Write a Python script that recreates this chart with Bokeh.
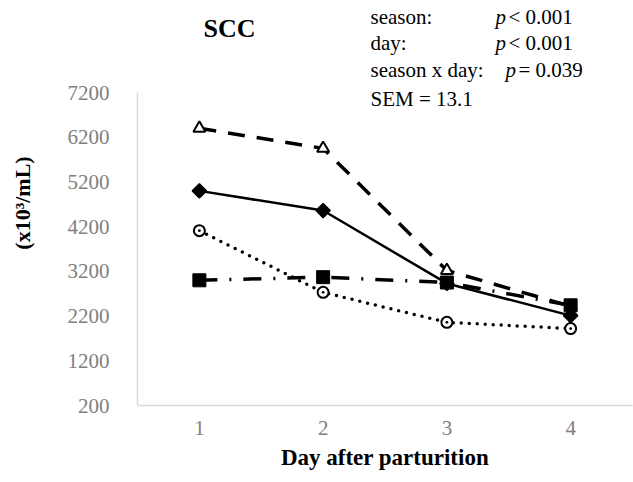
import math
from bokeh.plotting import figure
from bokeh.models import Range1d, FixedTicker, Label
from bokeh.embed import file_html
from bokeh.resources import INLINE

days = [1, 2, 3, 4]
day_labels = {1: "1", 2: "2", 3: "3", 4: "4"}
y_ticks = [200, 1200, 2200, 3200, 4200, 5200, 6200, 7200]
y_min, y_max = 200, 7200

series_triangle = [6400, 5950, 3220, 2420]
series_diamond = [5000, 4560, 2930, 2210]
series_circle = [4110, 2730, 2060, 1920]
series_square = [3000, 3070, 2950, 2440]

FONT = "Liberation Serif"

# layout in pixels
W, H = 633, 482
LEFT, BOTTOM = 137, 77
AXIS_TOP_PX = 92            # pixel row where 7200 sits
FRAME_H = H - BOTTOM        # frame spans from canvas top to the x axis
y_top = y_min + (y_max - y_min) * FRAME_H / (FRAME_H - AXIS_TOP_PX)

p = figure(width=W, height=H, output_backend="svg", toolbar_location=None,
           x_range=Range1d(0.5, 4.5), y_range=Range1d(y_min, y_top),
           min_border_left=LEFT, min_border_right=1, min_border_top=0,
           min_border_bottom=BOTTOM)
p.outline_line_color = None
p.grid.visible = False
p.background_fill_color = "white"
p.border_fill_color = "white"

for ax in (p.xaxis, p.yaxis):
    ax.axis_line_color = "#d9d9d9"
    ax.axis_line_width = 1.5
    ax.major_tick_line_color = None
    ax.minor_tick_line_color = None
    ax.major_label_text_color = "#808080"
    ax.major_label_text_font = FONT
    ax.major_label_text_font_size = "21px"

p.xaxis.ticker = FixedTicker(ticks=days)
p.xaxis.major_label_overrides = day_labels
p.xaxis.major_label_standoff = 9
p.yaxis.ticker = FixedTicker(ticks=y_ticks)
p.yaxis.bounds = (y_min, y_max)
p.yaxis.major_label_standoff = 22

p.xaxis.axis_label = "Day after parturition"
p.xaxis.axis_label_text_font = FONT
p.xaxis.axis_label_text_font_style = "bold"
p.xaxis.axis_label_text_font_size = "23px"
p.xaxis.axis_label_text_color = "black"
p.xaxis.axis_label_standoff = 7

p.yaxis.axis_label = "(x10³/mL)"
p.yaxis.axis_label_text_font = FONT
p.yaxis.axis_label_text_font_style = "bold"
p.yaxis.axis_label_text_font_size = "22px"
p.yaxis.axis_label_text_color = "black"
p.yaxis.axis_label_standoff = 30

# series
p.line(days, series_triangle, line_color="black", line_width=3.5, line_dash="17 12")
p.scatter(days, series_triangle, marker="triangle", size=12, fill_color="white",
          line_color="black", line_width=2)

p.line(days, series_diamond, line_color="black", line_width=2.5)
p.scatter(days, series_diamond, marker="square", angle=math.pi / 4, size=10,
          fill_color="black", line_color="black", line_width=1.5)

p.line(days, series_circle, line_color="black", line_width=3.5, line_dash="0 8",
       line_cap="round")
p.scatter(days, series_circle, marker="circle_dot", size=11, fill_color="white",
          line_color="black", line_width=2)

p.line(days, series_square, line_color="black", line_width=3.5, line_dash="18 12 2 12")
p.scatter(days, series_square, marker="square", size=13, fill_color="black",
          line_color="black")


def put(px, baseline, text, size_px, style="normal"):
    shift = 0.36 * size_px
    p.add_layout(Label(x=px - LEFT, y=FRAME_H - baseline + shift, x_units="screen",
                       y_units="screen", text=text, text_font=FONT,
                       text_color="black", text_font_style=style,
                       text_font_size=f"{size_px}px", text_baseline="alphabetic"))


put(203, 37, "SCC", 26, "bold")

ann = [("season:", "< 0.001", 24, 495),
       ("day:", "< 0.001", 50, 495),
       ("season x day:", "= 0.039", 77, 505)]
for left, rest, yb, xp in ann:
    put(370, yb, left, 21)
    put(xp, yb, "p", 21, "italic")
    put(xp + 13, yb, rest, 21)
put(370, 106, "SEM = 13.1", 21)

open("out.html", "w").write(file_html(p, INLINE))
